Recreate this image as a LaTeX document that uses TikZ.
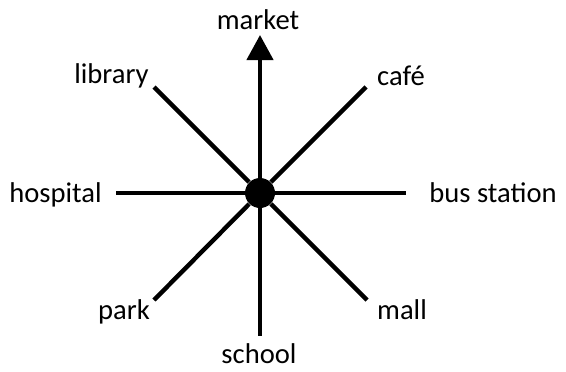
\documentclass[tikz,border=0pt]{standalone}
\usepackage{fontspec}
\setmainfont{Carlito}
\usetikzlibrary{arrows.meta}

\begin{document}
\begin{tikzpicture}[x=0.5pt,y=-0.5pt,
  place/.style={anchor=base,inner sep=0pt,font=\fontsize{14.3}{17}\selectfont},
  spoke/.style={line width=2.2pt}]
\useasboundingbox (0,0) rectangle (566,371);
\node (hub) at (260,193) [circle,fill=black,minimum size=15pt,inner sep=0pt] {};
% line ends
\coordinate (n) at (260,35);
\coordinate (s) at (260,336);
\coordinate (w) at (116,193);
\coordinate (e) at (406,193);
\coordinate (nw) at (154,87);
\coordinate (ne) at (366,87);
\coordinate (sw) at (154,300);
\coordinate (se) at (367,300);
% labels
\node (market) at (258,29) [place] {market};
\node (library) at (111.5,83) [place] {library};
\node (cafe) at (401,85) [place] {café};
\node (hospital) at (55.5,202) [place] {hospital};
\node (bus) at (493,202) [place] {bus station};
\node (park) at (124,319) [place] {park};
\node (mall) at (402,319) [place] {mall};
\node (school) at (259,363) [place] {school};
% spokes
\draw[spoke,-{Triangle[length=12.5pt,width=13pt]}] (hub) -- (n);
\foreach \p in {s,w,e,nw,ne,sw,se}
  \draw[spoke] (hub) -- (\p);
\end{tikzpicture}
\end{document}
